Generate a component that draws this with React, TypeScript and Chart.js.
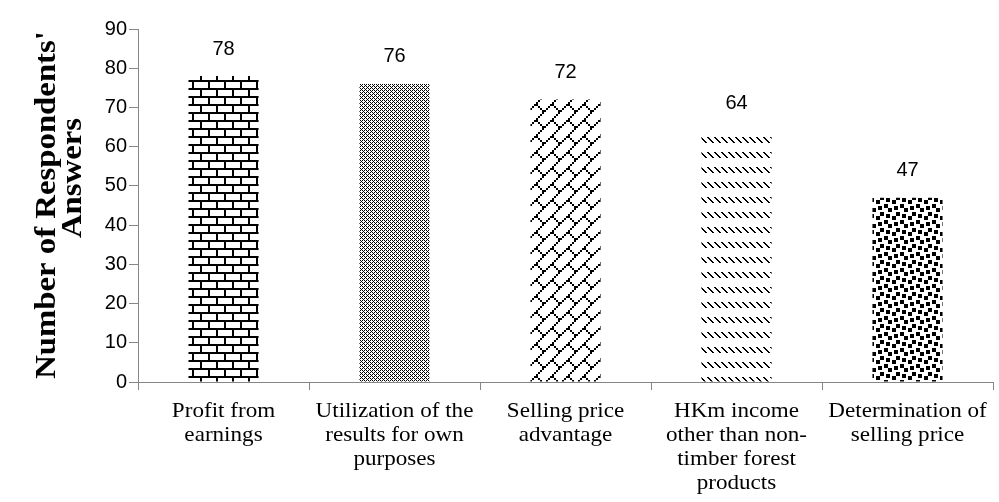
import React, { useEffect, useRef } from "react";
import { Chart, registerables } from "chart.js";

Chart.register(...registerables);

// ---- data ----
const categoryLabels: string[][] = [
  ["Profit from", "earnings"],
  ["Utilization of the", "results for own", "purposes"],
  ["Selling price", "advantage"],
  ["HKm income", "other than non-", "timber forest", "products"],
  ["Determination of", "selling price"],
];
const answerCounts: number[] = [78, 76, 72, 64, 47];
const yAxisMin = 0;
const yAxisMax = 90;
const yAxisStep = 10;
const yTitleLines: string[] = ["Number of Respondents'", "Answers"];

// ---- fill patterns (bitmaps, 1 = black) ----
const PATTERN_BITMAPS: { rows: string[]; scale: number }[] = [
  {
    // horizontal brick
    rows: ["11111111", "10000000", "10000000", "10000000", "11111111", "00001000", "00001000", "00001000"],
    scale: 2,
  },
  {
    // fine trellis
    rows: ["1010", "0100", "1010", "0001"],
    scale: 1,
  },
  {
    // upward diagonal brick
    rows: ["00000001", "00000010", "00000100", "00001000", "00011000", "00100100", "01000010", "10000001"],
    scale: 2,
  },
  {
    // dashed downward diagonal
    rows: [
      "0000000",
      "0000000",
      "1100000",
      "0110000",
      "0011000",
      "0001100",
      "0000110",
      "0000011",
      "0000000",
      "0000000",
      "0000000",
      "0000000",
      "0000000",
      "0000000",
      "0000000",
    ],
    scale: 1,
  },
  {
    // large confetti
    rows: ["10001101", "00001100", "11000000", "11011000", "00011011", "00000011", "00110000", "10110001"],
    scale: 2,
  },
];

function makePattern(rows: string[], scale: number): CanvasPattern | string {
  const c = document.createElement("canvas");
  c.width = rows[0].length * scale;
  c.height = rows.length * scale;
  const g = c.getContext("2d");
  if (!g) return "#000";
  g.fillStyle = "#ffffff";
  g.fillRect(0, 0, c.width, c.height);
  g.fillStyle = "#000000";
  rows.forEach((r, y) => {
    for (let x = 0; x < r.length; x++) {
      if (r[x] === "1") g.fillRect(x * scale, y * scale, scale, scale);
    }
  });
  return g.createPattern(c, "repeat") || "#000";
}

const AXIS_GRAY = "#868686";

const textPlugin = {
  id: "textPlugin",
  afterDraw(chart: any) {
    const ctx: CanvasRenderingContext2D = chart.ctx;
    const xs = chart.scales.x;
    const area = chart.chartArea;
    ctx.save();
    ctx.fillStyle = "#000";
    ctx.textAlign = "center";
    ctx.textBaseline = "middle";

    // category labels
    ctx.font = "21px 'Liberation Serif'";
    categoryLabels.forEach((lines, i) => {
      const cx = xs.getPixelForValue(i);
      lines.forEach((ln, j) => {
        const cy = area.bottom + 29 + j * 24;
        ctx.save();
        ctx.translate(cx, cy);
        ctx.scale(1.1, 1);
        ctx.fillText(ln, 0, 0);
        ctx.restore();
      });
    });

    // y-axis title
    ctx.font = "bold 29px 'Liberation Serif'";
    const titlePos = [
      [48, 205],
      [74, 178],
    ];
    yTitleLines.forEach((ln, j) => {
      ctx.save();
      ctx.translate(titlePos[j][0], titlePos[j][1]);
      ctx.rotate(-Math.PI / 2);
      ctx.scale(1.13, 1);
      ctx.fillText(ln, 0, 0);
      ctx.restore();
    });

    // data labels
    ctx.font = "20px 'Liberation Sans'";
    const meta = chart.getDatasetMeta(0);
    meta.data.forEach((bar: any, i: number) => {
      ctx.fillText(String(answerCounts[i]), bar.x, bar.y - 27);
    });
    ctx.restore();
  },
};

export default function App() {
  const ref = useRef<HTMLCanvasElement | null>(null);

  useEffect(() => {
    document.body.style.margin = "0";
    if (!ref.current) return;
    const fills = PATTERN_BITMAPS.map((p) => makePattern(p.rows, p.scale));
    const chart = new Chart(ref.current, {
      type: "bar",
      data: {
        labels: categoryLabels.map((l) => l.join(" ")),
        datasets: [
          {
            data: answerCounts,
            backgroundColor: fills as any,
            borderWidth: 0,
            barPercentage: 0.41,
            categoryPercentage: 1,
          },
        ],
      },
      options: {
        animation: false,
        responsive: true,
        maintainAspectRatio: false,
        layout: { padding: { left: 0, right: 6, top: 29, bottom: 0 } },
        plugins: {
          legend: { display: false },
          tooltip: { enabled: false },
          title: { display: false },
        },
        scales: {
          x: {
            grid: {
              display: true,
              offset: true,
              drawOnChartArea: false,
              drawTicks: true,
              tickLength: 8,
              color: AXIS_GRAY,
            },
            border: { display: true, color: AXIS_GRAY, width: 1 },
            ticks: { display: false },
            afterFit: (s: any) => {
              s.height = 120;
            },
          },
          y: {
            min: yAxisMin,
            max: yAxisMax,
            ticks: {
              stepSize: yAxisStep,
              color: "#000",
              padding: 2,
              font: { family: "'Liberation Sans'", size: 20 },
            },
            grid: {
              display: true,
              drawOnChartArea: false,
              drawTicks: true,
              tickLength: 9,
              color: AXIS_GRAY,
            },
            border: { display: true, color: AXIS_GRAY, width: 1 },
            afterFit: (s: any) => {
              s.width = 138;
            },
          },
        },
      },
      plugins: [textPlugin],
    });
    return () => chart.destroy();
  }, []);

  return (
    <div style={{ width: 999, height: 502, position: "relative" }}>
      <canvas ref={ref} />
    </div>
  );
}
